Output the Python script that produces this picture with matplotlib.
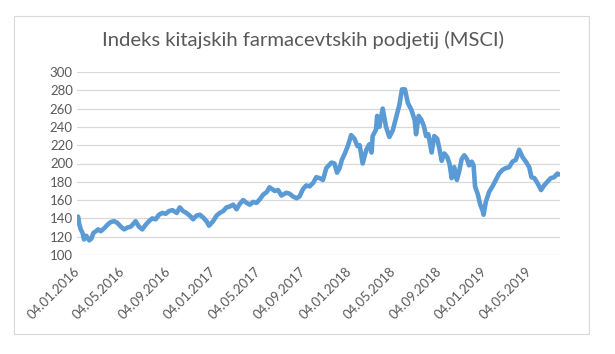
import matplotlib
matplotlib.use('Agg')
import matplotlib.pyplot as plt
import pandas as pd
from matplotlib.patches import Rectangle

# MSCI China pharma index (days after 04.01.2016)
start_date = '2016-01-04'
day_offsets = [
    0, 3, 7, 12, 16, 22, 30, 36, 41, 48, 54, 61, 70, 79, 88, 97, 106, 115, 124, 133,
    142, 151, 155, 164, 173, 182, 191, 200, 209, 218, 227, 236, 245, 254, 266, 274, 283, 292, 301, 310,
    319, 328, 337, 346, 353, 364, 373, 382, 391, 400, 409, 418, 427, 436, 445, 454, 463, 472, 481, 490,
    499, 509, 516, 530, 539, 548, 561, 570, 579, 589, 597, 606, 615, 624, 634, 642, 651, 660, 669, 678,
    683, 691, 698, 705, 711, 718, 727, 736, 745, 753, 759, 767, 777, 785, 791, 794, 803, 806, 812, 821,
    830, 839, 848, 857, 866, 873, 881, 889, 898, 907, 911, 918, 925, 932, 938, 944, 953, 960, 968, 974,
    980, 987, 995, 1001, 1007, 1014, 1021, 1027, 1034, 1041, 1048, 1054, 1061, 1066, 1070, 1077, 1084, 1090, 1093, 1099,
    1108, 1117, 1126, 1135, 1144, 1153, 1162, 1171, 1180, 1189, 1198, 1207, 1216, 1222, 1230, 1239, 1248, 1256, 1265, 1274,
    1283, 1292, 1296,
]
index_values = [
    142, 134, 128, 124, 117, 121, 116, 118, 124, 126, 128, 126, 129, 133, 136, 137, 135, 131, 128, 130,
    131, 135, 137, 131, 128, 133, 137, 140, 139, 144, 146, 145, 148, 149, 146, 152, 148, 146, 143, 139,
    143, 144, 141, 137, 132, 137, 143, 146, 148, 152, 153, 155, 150, 156, 160, 157, 155, 158, 157, 161,
    166, 169, 174, 170, 171, 165, 168, 167, 164, 162, 164, 172, 176, 175, 179, 185, 184, 182, 195, 199,
    201, 200, 190, 195, 204, 210, 219, 231, 227, 219, 220, 200, 215, 221, 212, 230, 237, 252, 240, 260,
    240, 229, 236, 250, 264, 281, 281, 266, 259, 248, 232, 252, 248, 241, 230, 232, 212, 230, 227, 216,
    203, 211, 207, 200, 184, 196, 182, 191, 205, 209, 205, 198, 202, 198, 175, 167, 155, 149, 144, 158,
    169, 175, 182, 189, 193, 195, 196, 202, 204, 215, 207, 202, 196, 185, 184, 178, 171, 176, 180, 184,
    185, 189, 188,
]
tick_dates = ['2016-01-04', '2016-05-04', '2016-09-04', '2017-01-04', '2017-05-04', '2017-09-04',
              '2018-01-04', '2018-05-04', '2018-09-04', '2019-01-04', '2019-05-04']
y_ticks = [100, 120, 140, 160, 180, 200, 220, 240, 260, 280, 300]
title = 'Indeks kitajskih farmacevtskih podjetij (MSCI)'

plt.rcParams['font.family'] = ['Lato', 'DejaVu Sans']
text_color = '#595959'
grid_color = '#D9D9D9'

dates = pd.Timestamp(start_date) + pd.to_timedelta(day_offsets, unit='D')
ticks = pd.to_datetime(tick_dates)

W, H = 615, 354
fig = plt.figure(figsize=(W / 100, H / 100), dpi=100)
ax = fig.add_axes([77 / W, 1 - 255 / H, (560 - 77) / W, (255 - 72) / H])

ax.plot(dates, index_values, color='#5B9BD5', lw=3.3, solid_joinstyle='round', solid_capstyle='round')

ax.set_ylim(100, 300)
ax.set_yticks(y_ticks)
ax.set_xlim(dates[0] - pd.Timedelta(days=3), dates[-1] + pd.Timedelta(days=3))
ax.set_xticks(ticks)
ax.set_xticklabels([d.strftime('%d.%m.%Y') for d in ticks], rotation=45, ha='right',
                   va='center', rotation_mode='anchor')
ax.grid(axis='y', color=grid_color, lw=0.9)
ax.set_axisbelow(True)
for s in ax.spines.values():
    s.set_visible(False)
ax.tick_params(axis='both', length=0, colors=text_color, labelsize=9.5)
ax.tick_params(axis='y', pad=3)
ax.tick_params(axis='x', pad=10)

fig.text(303 / W, 1 - 40 / H, title, ha='center', va='center', fontsize=14.6, color=text_color)

# chart area border
fig.patches.append(Rectangle((14 / W, 1 - 334 / H), (589 - 14) / W, (334 - 16) / H,
                             transform=fig.transFigure, fill=False, edgecolor=grid_color, lw=0.8))

fig.savefig('out.png', dpi=100)
